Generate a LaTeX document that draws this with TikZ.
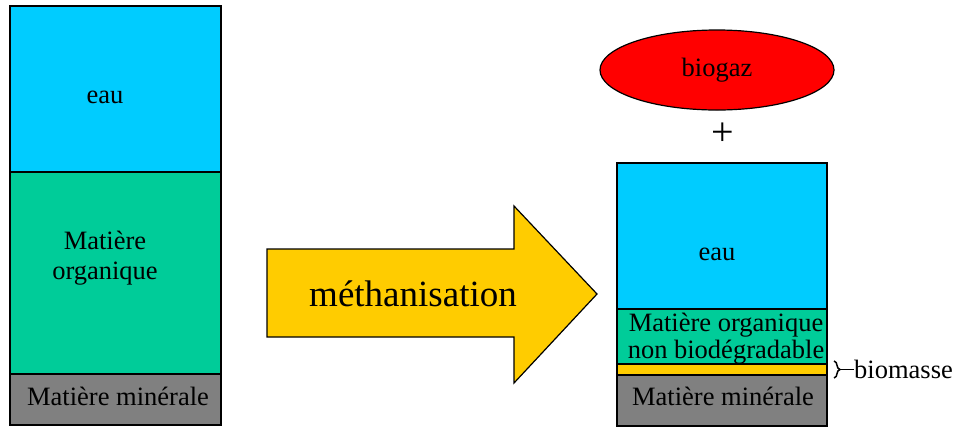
\documentclass[tikz,border=0pt]{standalone}
\usepackage{fontspec}
\setmainfont{Liberation Serif}
\usetikzlibrary{decorations.pathreplacing,shapes.geometric}
\definecolor{eaucol}{RGB}{0,204,255}
\definecolor{orgcol}{RGB}{0,204,153}
\definecolor{mincol}{RGB}{128,128,128}
\definecolor{biocol}{RGB}{255,204,0}
\definecolor{gazcol}{RGB}{255,0,0}
\begin{document}
\begin{tikzpicture}[x=1bp,y=-1bp,
  layer/.style={draw=black,line width=1.2bp,rectangle},
  lbl/.style={font=\fontsize{26.5bp}{30bp}\selectfont,align=center,inner sep=0pt}]
\useasboundingbox (0,0) rectangle (955,427);

% left column: before digestion
\draw[layer,fill=eaucol] (10,6) rectangle (221,172);
\draw[layer,fill=orgcol] (10,172) rectangle (221,374);
\draw[layer,fill=mincol] (10,374) rectangle (221,425);
\node[lbl] (eauL) at (105,97) {eau};
\node[lbl] (orgL) at (105,258) {Matière\\organique};
\node[lbl] (minL) at (118,396) {Matière minérale};

% process arrow
\draw[line width=1.2bp,fill=biocol] (267,249) -- (514,249) -- (514,206) -- (597,294)
  -- (514,383) -- (514,337) -- (267,337) -- cycle;
\node[lbl,font=\fontsize{37bp}{40bp}\selectfont] (meth) at (413,294) {méthanisation};

% right column: after digestion
\draw[layer,fill=eaucol] (617,163) rectangle (827,309);
\draw[layer,fill=orgcol] (617,309) rectangle (827,364);
\draw[layer,fill=biocol] (617,364) rectangle (827,375);
\draw[layer,fill=mincol] (617,375) rectangle (827,426);
\node[lbl] (eauR) at (717,254) {eau};
\node[lbl,font=\fontsize{26.5bp}{27bp}\selectfont] (orgR) at (726,339) {Matière organique\\non biodégradable};
\node[lbl] (minR) at (723,396) {Matière minérale};

% biogas and plus sign
\node[ellipse,draw=black,line width=1.2bp,fill=gazcol,minimum width=234bp,minimum height=80bp,
  font=\fontsize{26.5bp}{30bp}\selectfont] (gaz) at (717,70) {biogaz};
\node[lbl,font=\fontsize{40bp}{40bp}\selectfont] (plus) at (723,134) {+};

% biomass brace
\coordinate (bt) at (834,361);
\coordinate (bb) at (834,378);
\draw[line width=1.5bp,decorate,decoration={brace,amplitude=6bp,aspect=0.5}] (bt) -- (bb);
\coordinate (btip) at (841,369.5);
\node[lbl,anchor=west] (bio) at (854,369.5) {biomasse};
\draw[line width=1.3bp] (btip) -- (bio.west);
\end{tikzpicture}
\end{document}
